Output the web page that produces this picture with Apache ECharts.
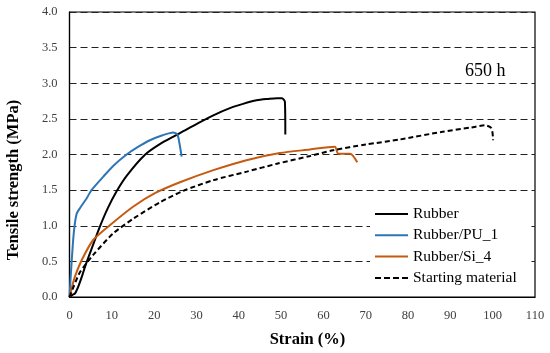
<!DOCTYPE html>
<html>
<head>
<meta charset="utf-8">
<script src="https://cdn.jsdelivr.net/npm/echarts@6/dist/echarts.min.js"></script>
<style>
html,body{margin:0;padding:0;background:#fff;}
#chart{width:550px;height:353px;}
</style>
</head>
<body>
<div id="chart"></div>
<script>
// Strain (%) and tensile strength (MPa)
var rubberStrain = [0, 0.7, 1.3, 2.1, 3.0, 3.7, 5.5, 7.2, 9.0, 11.1, 13.5, 17.9, 22, 26.1, 30.4, 34, 37.9, 41, 44.2, 47, 49, 50.2, 50.9, 51.0];
var rubberStress = [0, 0.03, 0.05, 0.15, 0.3, 0.43, 0.72, 0.99, 1.24, 1.48, 1.70, 2.0, 2.17, 2.30, 2.44, 2.55, 2.65, 2.71, 2.76, 2.78, 2.79, 2.79, 2.74, 2.28];

var pu1Strain = [0, 0.3, 0.8, 1.2, 1.7, 2.5, 4.0, 5.2, 8.0, 10.5, 13.5, 16, 19, 22, 24.5, 25.5, 26, 26.5];
var pu1Stress = [0, 0.3, 0.75, 1.0, 1.17, 1.25, 1.38, 1.5, 1.69, 1.85, 2.0, 2.1, 2.2, 2.27, 2.31, 2.28, 2.15, 1.97];

var si4Strain = [0, 0.5, 1.3, 2.9, 5.6, 9.6, 15.1, 20.3, 26.1, 34, 41.8, 49.7, 56.8, 62.7, 63.5, 66.3, 68.0];
var si4Stress = [0, 0.12, 0.29, 0.52, 0.8, 1.01, 1.27, 1.46, 1.61, 1.78, 1.92, 2.02, 2.07, 2.11, 2.01, 2.01, 1.89];

var startStrain = [0, 1, 2.5, 5.6, 10.3, 15.1, 21.4, 26.9, 34, 41.9, 49, 56.9, 62.3, 70, 78, 88.2, 95, 98.1, 99.7, 100.1];
var startStress = [0, 0.15, 0.35, 0.59, 0.89, 1.10, 1.33, 1.49, 1.64, 1.76, 1.87, 1.98, 2.06, 2.14, 2.21, 2.32, 2.38, 2.41, 2.37, 2.20];

var seriesNames = ['Rubber', 'Rubber/PU_1', 'Rubber/Si_4', 'Starting material'];
var xTitle = 'Strain (%)';
var yTitle = 'Tensile strength (MPa)';
var note = '650 h';

function pairs(xs, ys) { return xs.map(function (x, i) { return [x, ys[i]]; }); }

var FONT = '"Liberation Serif", "Times New Roman", serif';
var SOLID_ICON = 'path://M0,0H33V2H0Z';
var DASH_ICON = 'path://M0,0H6V2H0Z M9,0H15V2H9Z M18,0H24V2H18Z M27,0H33V2H27Z';
var chart = echarts.init(document.getElementById('chart'));

function lineSeries(name, xs, ys, color, type) {
  return {
    name: name, type: 'line', data: pairs(xs, ys),
    symbol: 'none', showSymbol: false, smooth: 0.25,
    lineStyle: { color: color, width: 2, type: type || 'solid' },
    itemStyle: { color: color },
    emphasis: { disabled: true }, animation: false
  };
}

chart.setOption({
  animation: false,
  backgroundColor: '#fff',
  grid: { left: 69.5, right: 15, top: 12, bottom: 56, show: true, borderColor: '#000', borderWidth: 1.2, backgroundColor: 'transparent' },
  xAxis: {
    type: 'value', min: 0, max: 110, interval: 10,
    axisLine: { show: true, lineStyle: { color: '#000', width: 1.2 } },
    axisTick: { show: false },
    splitLine: { show: false },
    axisLabel: { color: '#404040', fontFamily: FONT, fontSize: 12.5, margin: 12 }
  },
  yAxis: {
    type: 'value', min: 0, max: 4, interval: 0.5,
    axisLine: { show: true, lineStyle: { color: '#000', width: 1.2 } },
    axisTick: { show: false },
    splitLine: { show: true, lineStyle: { color: '#222', width: 1.2, type: [7, 4] } },
    axisLabel: { color: '#404040', fontFamily: FONT, fontSize: 12.5, margin: 12,
      formatter: function (v) { return v.toFixed(1); } }
  },
  legend: {
    orient: 'vertical', left: 370, top: 201,
    padding: [5, 12, 4, 5],
    backgroundColor: '#fff',
    itemWidth: 33, itemHeight: 14, itemGap: 5.3,
    symbolKeepAspect: true,
    textStyle: { color: '#000', fontFamily: FONT, fontSize: 15.5 },
    data: [
      { name: seriesNames[0], icon: SOLID_ICON },
      { name: seriesNames[1], icon: SOLID_ICON },
      { name: seriesNames[2], icon: SOLID_ICON },
      { name: seriesNames[3], icon: DASH_ICON }
    ]
  },
  graphic: [
    { type: 'text', left: 465, top: 62, style: { text: note, fontFamily: FONT, fontSize: 18, fill: '#000' } },
    { type: 'text', x: 14, y: 180, rotation: Math.PI / 2,
      style: { text: yTitle, fontFamily: FONT, fontSize: 16.5, fontWeight: 'bold', fill: '#000', align: 'center', verticalAlign: 'middle' } },
    { type: 'text', x: 307.5, y: 340,
      style: { text: xTitle, fontFamily: FONT, fontSize: 16.5, fontWeight: 'bold', fill: '#000', align: 'center', verticalAlign: 'middle' } }
  ],
  series: [
    lineSeries(seriesNames[0], rubberStrain, rubberStress, '#000000'),
    lineSeries(seriesNames[1], pu1Strain, pu1Stress, '#2E75B6'),
    lineSeries(seriesNames[2], si4Strain, si4Stress, '#C55A11'),
    lineSeries(seriesNames[3], startStrain, startStress, '#000000', [5, 3])
  ]
});
</script>
</body>
</html>
